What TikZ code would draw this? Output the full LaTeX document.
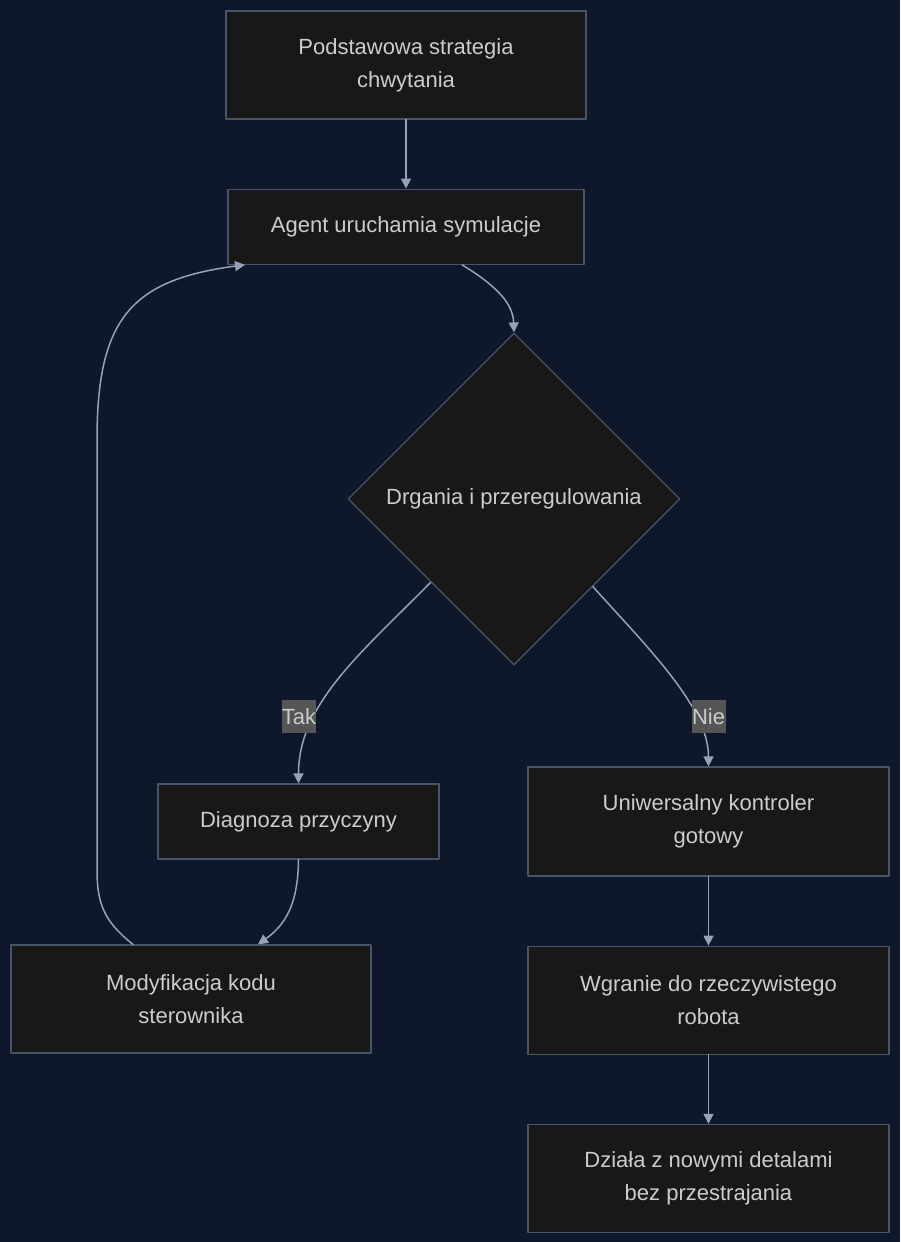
\documentclass[tikz,border=0pt]{standalone}
\usepackage{fontspec}
\setmainfont{Liberation Sans}
\usetikzlibrary{arrows.meta, positioning, shapes.geometric}
\definecolor{bgnavy}{RGB}{15, 23, 42}
\definecolor{boxfill}{RGB}{24, 24, 24}
\definecolor{boxline}{RGB}{71, 85, 105}
\definecolor{edgegrey}{RGB}{148, 163, 184}
\definecolor{labelgrey}{RGB}{85, 85, 85}
\definecolor{textgrey}{RGB}{204, 204, 204}
\tikzset{every node/.style={font=\fontsize{22}{33}\selectfont, text=textgrey}, every path/.style={line cap=round, line join=round}, >={Triangle[length=10pt, width=10pt]}}
\tikzset{
    procbox/.style={draw=boxline, fill=boxfill, line width=1.2pt, align=center, inner sep=0pt},
    decbox/.style={diamond, aspect=1, draw=boxline, fill=boxfill, line width=1.2pt, inner sep=0pt, minimum width=332pt, minimum height=332pt},
    edgelabel/.style={fill=labelgrey, inner sep=0pt, minimum width=34pt, minimum height=33pt},
    flow/.style={->, draw=edgegrey, line width=1.5pt}
}

\begin{document}
\begin{tikzpicture}[x=1pt, y=-1pt]
    \fill [bgnavy] (0,0) rectangle (900,1242);
    \useasboundingbox (0,0) rectangle (900,1242);

    \node [procbox, minimum width=360pt, minimum height=108pt] (start) at (406,65) {Podstawowa strategia\\chwytania};
    \node [procbox, minimum width=356pt, minimum height=75pt, below=69pt of start] (agent) {Agent uruchamia symulacje};
    \node [decbox] (check) at (514,499) {Drgania i przeregulowania};
    \node [procbox, minimum width=281pt, minimum height=75pt] (diag) at (298.5,821.5) {Diagnoza przyczyny};
    \node [procbox, minimum width=361pt, minimum height=109pt] (ready) at (708.5,821.5) {Uniwersalny kontroler\\gotowy};
    \node [procbox, minimum width=360pt, minimum height=108pt] (modify) at (191,999) {Modyfikacja kodu\\sterownika};
    \node [procbox, minimum width=361pt, minimum height=108pt, below=69pt of ready] (upload) {Wgranie do rzeczywistego\\robota};
    \node [procbox, minimum width=361pt, minimum height=108pt, below=69pt of upload] (works) {Działa z nowymi detalami\\bez przestrajania};

    \draw [flow] (start) -- (agent);
    \draw [flow] ([xshift=56pt]agent.south) .. controls (500,288) and (513,305) .. (check.north);
    \draw [flow] (check.south west) .. controls (361,653) and (298.5,704) .. (diag.north);
    \draw [flow] (check.-48) .. controls (647,647) and (708.5,707) .. (ready.north);
    \draw [flow] (diag.south) .. controls (298,905) and (285,925) .. ([xshift=67pt]modify.north);
    \draw [flow] ([xshift=-58pt]modify.north) .. controls (105,922) and (97,905) .. (97,870) -- (97,440) .. controls (97,320) and (130,280) .. ([xshift=-161pt]agent.south);
    \draw [flow] (ready) -- (upload);
    \draw [flow] (upload) -- (works);

    \node [edgelabel] (yes) at (299,716.5) {Tak};
    \node [edgelabel] (no) at (708.5,716.5) {Nie};
\end{tikzpicture}
\end{document}
